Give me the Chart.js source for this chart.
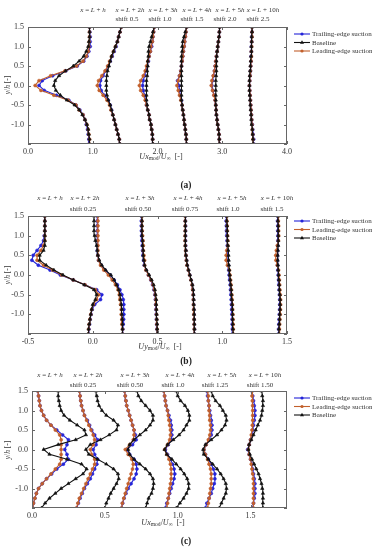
<!DOCTYPE html>
<html>
<head>
<meta charset="utf-8">
<script src="https://cdn.jsdelivr.net/npm/chart.js@4.4.0/dist/chart.umd.min.js"></script>
<style>
  html, body { margin: 0; padding: 0; background: #fff; }
  #page { position: relative; width: 372px; height: 550px; overflow: hidden;
          font-family: "Liberation Serif", "Times New Roman", serif; color: #333; }
  canvas { position: absolute; left: 0; }
  .t { position: absolute; white-space: nowrap; line-height: 1; transform: translate(-50%, -50%); z-index: 2; }
  .hd { font-size: 7px; }
  .lg { font-size: 7px; transform: translate(0, -50%); }
  .ax { font-size: 8px; }
  .yt { font-size: 7.5px; transform: translate(-50%, -50%) rotate(-90deg); }
  .pl { font-size: 9.5px; font-weight: bold; color: #222; }
  sub { font-size: 70%; vertical-align: -0.25em; line-height: 0; }
</style>
</head>
<body>
<div id="page">
  <canvas id="chartA" width="372" height="162" style="top:0px"></canvas>
  <canvas id="chartB" width="372" height="162" style="top:190px"></canvas>
  <canvas id="chartC" width="372" height="160" style="top:365px"></canvas>
</div>
<script>
// y/h stations of every profile, bottom to top
const Y_POS = [-1.5, -1.375, -1.25, -1.125, -1.0, -0.875, -0.75, -0.625, -0.5, -0.375, -0.25, -0.125, 0,
  0.125, 0.25, 0.375, 0.5, 0.625, 0.75, 0.875, 1.0, 1.125, 1.25, 1.375, 1.5];

const STATIONS = ["", "2", "3", "4", "5", "10"]; // x = L + n h

// (a) Ux_mod / U_inf
const A_SHIFT = [0, 0.5, 1.0, 1.5, 2.0, 2.5];
const A_SHIFT_LABELS = ["0.5", "1.0", "1.5", "2.0", "2.5"];
const A_TRAIL = [
  [0.94,0.94,0.93,0.92,0.90,0.88,0.85,0.80,0.74,0.63,0.44,0.25,0.17,0.22,0.38,0.58,0.76,0.86,0.91,0.94,0.96,0.96,0.96,0.955,0.95],
  [0.92,0.91,0.89,0.87,0.85,0.83,0.81,0.79,0.77,0.74,0.68,0.63,0.61,0.62,0.66,0.70,0.74,0.77,0.80,0.83,0.86,0.88,0.90,0.92,0.94],
  [0.93,0.925,0.92,0.91,0.90,0.88,0.87,0.85,0.83,0.82,0.80,0.78,0.77,0.78,0.80,0.82,0.84,0.86,0.87,0.89,0.91,0.92,0.93,0.94,0.95],
  [0.95,0.945,0.94,0.93,0.92,0.91,0.90,0.89,0.88,0.87,0.85,0.84,0.83,0.81,0.84,0.86,0.87,0.88,0.89,0.90,0.91,0.92,0.93,0.94,0.95],
  [0.96,0.955,0.95,0.94,0.93,0.92,0.91,0.905,0.90,0.89,0.875,0.855,0.84,0.85,0.865,0.88,0.89,0.90,0.91,0.92,0.93,0.94,0.95,0.955,0.96],
  [0.99,0.985,0.975,0.97,0.965,0.955,0.95,0.945,0.94,0.935,0.93,0.925,0.92,0.925,0.93,0.935,0.94,0.945,0.945,0.95,0.95,0.955,0.955,0.96,0.96]
];
const A_BASE = [
  [0.95,0.95,0.94,0.93,0.91,0.88,0.84,0.79,0.72,0.60,0.50,0.43,0.40,0.42,0.48,0.58,0.70,0.79,0.86,0.90,0.93,0.94,0.95,0.95,0.95],
  [0.92,0.91,0.89,0.87,0.85,0.83,0.81,0.79,0.77,0.74,0.72,0.71,0.71,0.71,0.72,0.73,0.75,0.77,0.79,0.82,0.85,0.88,0.90,0.92,0.94],
  [0.93,0.925,0.92,0.91,0.90,0.88,0.87,0.85,0.84,0.83,0.83,0.83,0.83,0.83,0.84,0.84,0.85,0.85,0.86,0.86,0.87,0.89,0.91,0.93,0.95],
  [0.95,0.945,0.94,0.93,0.92,0.91,0.90,0.89,0.88,0.87,0.87,0.87,0.87,0.87,0.87,0.87,0.87,0.87,0.87,0.88,0.88,0.89,0.91,0.93,0.95],
  [0.96,0.955,0.95,0.94,0.93,0.92,0.91,0.905,0.90,0.90,0.90,0.90,0.90,0.90,0.905,0.91,0.91,0.91,0.915,0.92,0.93,0.94,0.95,0.955,0.96],
  [0.98,0.975,0.97,0.965,0.955,0.95,0.945,0.94,0.935,0.93,0.925,0.92,0.92,0.92,0.925,0.93,0.935,0.94,0.945,0.95,0.95,0.955,0.955,0.96,0.96]
];
const A_LEAD = [
  [0.95,0.95,0.94,0.93,0.91,0.88,0.85,0.79,0.74,0.62,0.40,0.20,0.11,0.17,0.35,0.57,0.75,0.85,0.90,0.93,0.94,0.945,0.95,0.95,0.95],
  [0.92,0.91,0.89,0.87,0.85,0.83,0.81,0.78,0.76,0.72,0.66,0.60,0.57,0.59,0.64,0.69,0.73,0.76,0.79,0.82,0.85,0.88,0.90,0.92,0.94],
  [0.93,0.925,0.92,0.91,0.90,0.88,0.87,0.85,0.83,0.81,0.78,0.74,0.72,0.74,0.78,0.81,0.83,0.85,0.87,0.89,0.90,0.92,0.93,0.94,0.95],
  [0.95,0.945,0.94,0.93,0.92,0.91,0.90,0.89,0.88,0.86,0.84,0.82,0.80,0.82,0.84,0.86,0.87,0.88,0.89,0.90,0.91,0.92,0.93,0.94,0.95],
  [0.96,0.955,0.95,0.94,0.93,0.92,0.91,0.905,0.90,0.89,0.87,0.85,0.83,0.84,0.86,0.88,0.89,0.90,0.91,0.92,0.93,0.94,0.95,0.955,0.96],
  [0.98,0.975,0.97,0.965,0.96,0.955,0.95,0.945,0.94,0.935,0.93,0.925,0.92,0.925,0.93,0.935,0.94,0.945,0.95,0.95,0.955,0.955,0.96,0.96,0.96]
];

// (b) Uy_mod / U_inf
const B_SHIFT = [0, 0.25, 0.5, 0.75, 1.0, 1.5];
const B_SHIFT_LABELS = ["0.25", "0.50", "0.75", "1.0", "1.5"];
const B_TRAIL = [
  [-0.033,-0.03,-0.025,-0.02,-0.013,-0.005,0.015,0.06,0.07,0.03,-0.06,-0.15,-0.25,-0.33,-0.42,-0.47,-0.46,-0.43,-0.40,-0.38,-0.375,-0.37,-0.37,-0.37,-0.37],
  [-0.02,-0.018,-0.015,-0.012,-0.01,-0.01,-0.01,-0.015,-0.025,-0.04,-0.06,-0.085,-0.115,-0.155,-0.185,-0.205,-0.21,-0.215,-0.215,-0.215,-0.215,-0.215,-0.215,-0.215,-0.215],
  [-0.002,-0.004,-0.006,-0.008,-0.01,-0.012,-0.014,-0.016,-0.02,-0.028,-0.038,-0.052,-0.07,-0.088,-0.102,-0.108,-0.112,-0.115,-0.118,-0.12,-0.122,-0.124,-0.125,-0.125,-0.125],
  [0.036,0.035,0.034,0.033,0.032,0.031,0.029,0.028,0.026,0.023,0.018,0.009,-0.001,-0.011,-0.021,-0.026,-0.03,-0.031,-0.033,-0.034,-0.034,-0.034,-0.034,-0.035,-0.035],
  [0.079,0.078,0.077,0.076,0.075,0.073,0.071,0.069,0.067,0.064,0.061,0.057,0.053,0.05,0.047,0.045,0.043,0.041,0.039,0.037,0.035,0.033,0.032,0.03,0.03],
  [-0.067,-0.065,-0.063,-0.061,-0.059,-0.057,-0.056,-0.056,-0.058,-0.061,-0.063,-0.065,-0.068,-0.071,-0.073,-0.075,-0.075,-0.073,-0.071,-0.07,-0.07,-0.071,-0.071,-0.073,-0.073]
];
const B_BASE = [
  [-0.035,-0.032,-0.028,-0.022,-0.015,-0.008,0.0,0.02,0.03,0.01,-0.065,-0.15,-0.23,-0.30,-0.36,-0.41,-0.41,-0.38,-0.37,-0.37,-0.37,-0.37,-0.37,-0.37,-0.37],
  [-0.02,-0.02,-0.02,-0.022,-0.025,-0.025,-0.03,-0.035,-0.04,-0.05,-0.065,-0.085,-0.11,-0.15,-0.18,-0.20,-0.21,-0.215,-0.22,-0.23,-0.235,-0.24,-0.24,-0.24,-0.24],
  [0.0,-0.002,-0.003,-0.005,-0.006,-0.008,-0.01,-0.01,-0.015,-0.02,-0.03,-0.045,-0.065,-0.085,-0.10,-0.105,-0.11,-0.11,-0.115,-0.115,-0.12,-0.12,-0.12,-0.12,-0.12],
  [0.037,0.036,0.035,0.034,0.033,0.032,0.03,0.03,0.028,0.025,0.02,0.01,0.0,-0.01,-0.02,-0.025,-0.03,-0.03,-0.035,-0.035,-0.035,-0.035,-0.035,-0.035,-0.035],
  [0.084,0.083,0.082,0.081,0.08,0.078,0.076,0.074,0.072,0.069,0.066,0.062,0.058,0.055,0.052,0.05,0.048,0.046,0.044,0.042,0.04,0.038,0.037,0.035,0.035],
  [-0.064,-0.062,-0.06,-0.058,-0.056,-0.054,-0.053,-0.053,-0.055,-0.058,-0.06,-0.062,-0.065,-0.068,-0.07,-0.072,-0.072,-0.07,-0.068,-0.067,-0.067,-0.068,-0.068,-0.07,-0.07]
];
const B_LEAD = [
  [-0.035,-0.032,-0.028,-0.022,-0.015,-0.008,0.005,0.03,0.045,0.02,-0.06,-0.15,-0.24,-0.31,-0.38,-0.43,-0.43,-0.40,-0.38,-0.37,-0.37,-0.37,-0.37,-0.37,-0.37],
  [-0.02,-0.02,-0.025,-0.025,-0.03,-0.03,-0.035,-0.04,-0.045,-0.055,-0.075,-0.10,-0.13,-0.165,-0.19,-0.205,-0.21,-0.21,-0.21,-0.21,-0.21,-0.21,-0.21,-0.21,-0.21],
  [0.0,-0.003,-0.005,-0.006,-0.008,-0.01,-0.012,-0.013,-0.018,-0.025,-0.035,-0.05,-0.07,-0.09,-0.10,-0.10,-0.105,-0.11,-0.11,-0.112,-0.115,-0.118,-0.12,-0.12,-0.12],
  [0.035,0.034,0.033,0.032,0.031,0.03,0.028,0.027,0.025,0.022,0.017,0.008,-0.002,-0.012,-0.022,-0.027,-0.03,-0.032,-0.035,-0.037,-0.037,-0.036,-0.036,-0.036,-0.036],
  [0.086,0.085,0.084,0.083,0.082,0.08,0.078,0.076,0.074,0.071,0.068,0.064,0.06,0.055,0.04,0.03,0.03,0.035,0.044,0.043,0.041,0.039,0.038,0.036,0.036],
  [-0.061,-0.059,-0.057,-0.055,-0.053,-0.051,-0.05,-0.05,-0.052,-0.055,-0.057,-0.059,-0.062,-0.065,-0.075,-0.085,-0.087,-0.082,-0.075,-0.066,-0.064,-0.065,-0.065,-0.067,-0.067]
];

// (c) Ux_mod / U_inf
const C_SHIFT = [0, 0.25, 0.5, 1.0, 1.25, 1.5];
const C_SHIFT_LABELS = ["0.25", "0.50", "1.0", "1.25", "1.50"];
const C_TRAIL = [
  [0.005,0.01,0.02,0.03,0.045,0.07,0.10,0.135,0.17,0.215,0.25,0.24,0.225,0.24,0.25,0.21,0.17,0.13,0.10,0.08,0.065,0.055,0.05,0.045,0.04],
  [0.058,0.068,0.08,0.095,0.11,0.13,0.15,0.165,0.18,0.195,0.20,0.18,0.17,0.19,0.20,0.18,0.16,0.145,0.13,0.11,0.10,0.09,0.085,0.08,0.075],
  [0.115,0.122,0.132,0.145,0.16,0.18,0.20,0.215,0.22,0.215,0.20,0.17,0.15,0.19,0.215,0.21,0.20,0.19,0.18,0.17,0.16,0.15,0.145,0.14,0.135],
  [-0.085,-0.075,-0.065,-0.055,-0.045,-0.035,-0.025,-0.02,-0.025,-0.035,-0.05,-0.07,-0.085,-0.065,-0.045,-0.04,-0.04,-0.045,-0.05,-0.06,-0.07,-0.08,-0.085,-0.09,-0.095],
  [-0.06,-0.05,-0.035,-0.02,-0.01,0.0,0.005,0.005,-0.005,-0.02,-0.04,-0.06,-0.07,-0.055,-0.035,-0.02,-0.015,-0.015,-0.02,-0.025,-0.03,-0.035,-0.04,-0.045,-0.05],
  [0.015,0.02,0.025,0.03,0.03,0.03,0.025,0.02,0.015,0.01,0.0,-0.01,-0.02,-0.01,0.0,0.01,0.015,0.02,0.025,0.03,0.03,0.025,0.02,0.015,0.01]
];
const C_BASE = [
  [0.065,0.09,0.12,0.16,0.20,0.25,0.30,0.35,0.375,0.34,0.24,0.12,0.08,0.18,0.30,0.37,0.36,0.31,0.26,0.22,0.20,0.19,0.185,0.18,0.18],
  [0.25,0.26,0.275,0.29,0.31,0.33,0.345,0.34,0.31,0.26,0.20,0.14,0.12,0.15,0.22,0.28,0.33,0.34,0.31,0.26,0.23,0.21,0.20,0.195,0.19],
  [0.28,0.29,0.30,0.32,0.33,0.335,0.33,0.31,0.28,0.24,0.20,0.17,0.16,0.17,0.20,0.24,0.28,0.31,0.33,0.33,0.31,0.28,0.25,0.23,0.22],
  [-0.01,0.015,0.04,0.06,0.075,0.075,0.065,0.045,0.02,-0.01,-0.04,-0.075,-0.09,-0.07,-0.03,0.01,0.04,0.06,0.08,0.08,0.07,0.05,0.02,0.0,-0.01],
  [0.035,0.05,0.065,0.08,0.085,0.08,0.065,0.045,0.02,-0.01,-0.04,-0.07,-0.075,-0.06,-0.02,0.02,0.05,0.075,0.085,0.08,0.06,0.04,0.01,-0.01,-0.02],
  [0.085,0.085,0.085,0.085,0.08,0.075,0.065,0.055,0.04,0.025,0.01,-0.005,-0.015,-0.01,0.005,0.02,0.035,0.05,0.065,0.075,0.08,0.085,0.085,0.08,0.075]
];
const C_LEAD = [
  [0.005,0.01,0.02,0.03,0.045,0.07,0.10,0.13,0.16,0.19,0.20,0.20,0.20,0.20,0.20,0.19,0.16,0.13,0.10,0.08,0.065,0.055,0.05,0.045,0.04],
  [0.055,0.065,0.075,0.09,0.105,0.12,0.135,0.15,0.165,0.18,0.18,0.16,0.15,0.17,0.18,0.17,0.155,0.14,0.125,0.11,0.10,0.09,0.085,0.08,0.075],
  [0.115,0.12,0.13,0.14,0.15,0.16,0.17,0.18,0.19,0.195,0.185,0.16,0.14,0.17,0.195,0.20,0.20,0.19,0.18,0.17,0.16,0.15,0.145,0.14,0.135],
  [-0.075,-0.07,-0.065,-0.06,-0.055,-0.05,-0.045,-0.045,-0.045,-0.05,-0.06,-0.075,-0.09,-0.07,-0.055,-0.05,-0.05,-0.055,-0.06,-0.065,-0.07,-0.08,-0.085,-0.09,-0.095],
  [-0.045,-0.04,-0.035,-0.03,-0.025,-0.02,-0.02,-0.02,-0.025,-0.035,-0.045,-0.06,-0.07,-0.055,-0.04,-0.03,-0.025,-0.025,-0.03,-0.03,-0.035,-0.035,-0.04,-0.04,-0.045],
  [0.02,0.02,0.02,0.02,0.02,0.02,0.018,0.015,0.01,0.005,0.0,-0.01,-0.015,-0.01,0.0,0.005,0.01,0.012,0.015,0.015,0.015,0.014,0.012,0.01,0.01]
];

const FONT = "'Liberation Serif', 'Times New Roman', serif";
const STYLE = {
  trail: { label: "Trailing-edge suction", color: "#2424d8", point: "circle" },
  base: { label: "Baseline", color: "#111111", point: "triangle" },
  lead: { label: "Leading-edge suction", color: "#c2602c", point: "circle" },
};

function profile(values, shift, st) {
  return {
    label: st.label,
    data: Y_POS.map((y, k) => ({ x: values[k] + shift, y: y })),
    showLine: true,
    borderColor: st.color,
    backgroundColor: st.color,
    borderWidth: 1.1,
    pointStyle: st.point,
    pointRadius: st.point === "triangle" ? 1.9 : 1.5,
    pointBorderWidth: 0.6,
  };
}

// baseline drawn on top, trailing-edge underneath
function buildSets(trail, base, lead, shift) {
  const sets = [];
  base.forEach((v, i) => sets.push(profile(v, shift[i], STYLE.base)));
  lead.forEach((v, i) => sets.push(profile(v, shift[i], STYLE.lead)));
  trail.forEach((v, i) => sets.push(profile(v, shift[i], STYLE.trail)));
  return sets;
}

function drawMarker(ctx, style, x, y) {
  ctx.fillStyle = style.color;
  ctx.beginPath();
  if (style.point === "triangle") {
    ctx.moveTo(x, y - 2.2);
    ctx.lineTo(x + 2, y + 1.3);
    ctx.lineTo(x - 2, y + 1.3);
    ctx.closePath();
  } else {
    ctx.arc(x, y, 1.6, 0, Math.PI * 2);
  }
  ctx.fill();
}

// box frame, inward tick marks and legend symbols
const framePlugin = {
  id: "frame",
  afterDraw(chart, args, opts) {
    const { ctx, chartArea: a, scales } = chart;
    ctx.save();
    ctx.strokeStyle = "#666";
    ctx.lineWidth = 1;
    ctx.strokeRect(a.left + 0.5, a.top + 0.5, a.right - a.left - 1, a.bottom - a.top - 1);
    ctx.beginPath();
    scales.x.ticks.forEach((t) => {
      if (!t.label) return;
      const px = Math.round(scales.x.getPixelForValue(t.value)) + 0.5;
      ctx.moveTo(px, a.bottom); ctx.lineTo(px, a.bottom - 3);
      ctx.moveTo(px, a.top); ctx.lineTo(px, a.top + 3);
    });
    scales.y.ticks.forEach((t) => {
      const py = Math.round(scales.y.getPixelForValue(t.value)) + 0.5;
      ctx.moveTo(a.left, py); ctx.lineTo(a.left + 3, py);
      ctx.moveTo(a.right, py); ctx.lineTo(a.right - 3, py);
    });
    ctx.stroke();

    opts.items.forEach((key, i) => {
      const st = STYLE[key];
      const y = opts.y + i * opts.gap;
      ctx.strokeStyle = st.color;
      ctx.lineWidth = 1.1;
      ctx.beginPath();
      ctx.moveTo(opts.x, y); ctx.lineTo(opts.x + 16, y);
      ctx.stroke();
      drawMarker(ctx, st, opts.x + 8, y);
    });
    ctx.restore();
  },
};

function tickLabel(step) {
  return function (value) {
    const k = value / step;
    if (Math.abs(k - Math.round(k)) > 1e-6) return "";
    return value.toFixed(1);
  };
}

function makeChart(id, cfg) {
  return new Chart(document.getElementById(id), {
    type: "scatter",
    data: { datasets: cfg.datasets },
    options: {
      responsive: false,
      animation: false,
      events: [],
      layout: { padding: { left: 0, right: 372 - cfg.right, top: cfg.padTop, bottom: cfg.padBottom } },
      plugins: {
        legend: { display: false },
        tooltip: { enabled: false },
        frame: { items: cfg.legend, x: 294, y: cfg.legendY, gap: 8.5 },
      },
      scales: {
        x: {
          type: "linear",
          min: cfg.xMin,
          max: cfg.xMax,
          grid: { display: false, drawTicks: false },
          border: { display: false },
          ticks: {
            stepSize: cfg.xStep,
            autoSkip: false,
            maxRotation: 0,
            padding: 3,
            color: "#333",
            font: { family: FONT, size: 8 },
            callback: tickLabel(cfg.xStep),
          },
          afterFit: (s) => { s.height = 14; },
        },
        y: {
          type: "linear",
          min: -1.5,
          max: 1.5,
          grid: { display: false, drawTicks: false },
          border: { display: false },
          ticks: {
            stepSize: 0.5,
            padding: 4,
            color: "#333",
            font: { family: FONT, size: 8 },
            callback: (v) => (v <= -1.5 ? "" : v.toFixed(1)),
          },
          afterFit: (s) => { s.width = cfg.left; },
        },
      },
    },
    plugins: [framePlugin],
  });
}

makeChart("chartA", {
  datasets: buildSets(A_TRAIL, A_BASE, A_LEAD, A_SHIFT),
  xMin: 0, xMax: 4, xStep: 1,
  left: 28, right: 287, padTop: 27, padBottom: 4,
  legend: ["trail", "base", "lead"], legendY: 34,
});
makeChart("chartB", {
  datasets: buildSets(B_TRAIL, B_BASE, B_LEAD, B_SHIFT),
  xMin: -0.5, xMax: 1.5, xStep: 0.5,
  left: 28, right: 287, padTop: 26, padBottom: 4,
  legend: ["trail", "lead", "base"], legendY: 31,
});
makeChart("chartC", {
  datasets: buildSets(C_TRAIL, C_BASE, C_LEAD, C_SHIFT),
  xMin: 0, xMax: 1.75, xStep: 0.5,
  left: 32, right: 287, padTop: 26, padBottom: 3,
  legend: ["trail", "lead", "base"], legendY: 33,
});

// text labels
const page = document.getElementById("page");
function addText(html, x, y, cls) {
  const d = document.createElement("div");
  d.className = "t " + cls;
  d.innerHTML = html;
  d.style.left = x + "px";
  d.style.top = y + "px";
  page.appendChild(d);
}
function station(n) {
  return "<i>x</i> = <i>L</i> + " + n + "<i>h</i>";
}
function headers(xs1, y1, xs2, y2, shifts) {
  STATIONS.forEach((n, i) => addText(station(n), xs1[i], y1, "hd"));
  shifts.forEach((s, i) => addText("shift " + s, xs2[i], y2, "hd"));
}
function legendText(keys, y0) {
  keys.forEach((k, i) => addText(STYLE[k].label, 312, y0 + i * 8.5, "lg"));
}
const UX = "<i>Ux</i><sub>mod</sub>/<i>U</i><sub>&infin;</sub>&nbsp; [-]";
const UY = "<i>Uy</i><sub>mod</sub>/<i>U</i><sub>&infin;</sub>&nbsp; [-]";
const YH = "<i>y</i>/<i>h</i> [-]";

headers([93, 130, 163, 197, 230, 263], 10, [127, 160, 192, 225, 258], 19, A_SHIFT_LABELS);
legendText(["trail", "base", "lead"], 34);
addText(YH, 8, 85, "yt");
addText(UX, 161, 157, "ax");
addText("(a)", 186, 186, "pl");

headers([50, 85, 140, 188, 232, 277], 198, [83, 138, 185, 228, 272], 209, B_SHIFT_LABELS);
legendText(["trail", "lead", "base"], 221);
addText(YH, 8, 275, "yt");
addText(UY, 160, 347, "ax");
addText("(b)", 186, 362, "pl");

headers([50, 88, 135, 180, 222, 265], 375, [83, 130, 173, 215, 260], 385, C_SHIFT_LABELS);
legendText(["trail", "lead", "base"], 398);
addText(YH, 8, 450, "yt");
addText(UX, 163, 523, "ax");
addText("(c)", 186, 542, "pl");
</script>
</body>
</html>
